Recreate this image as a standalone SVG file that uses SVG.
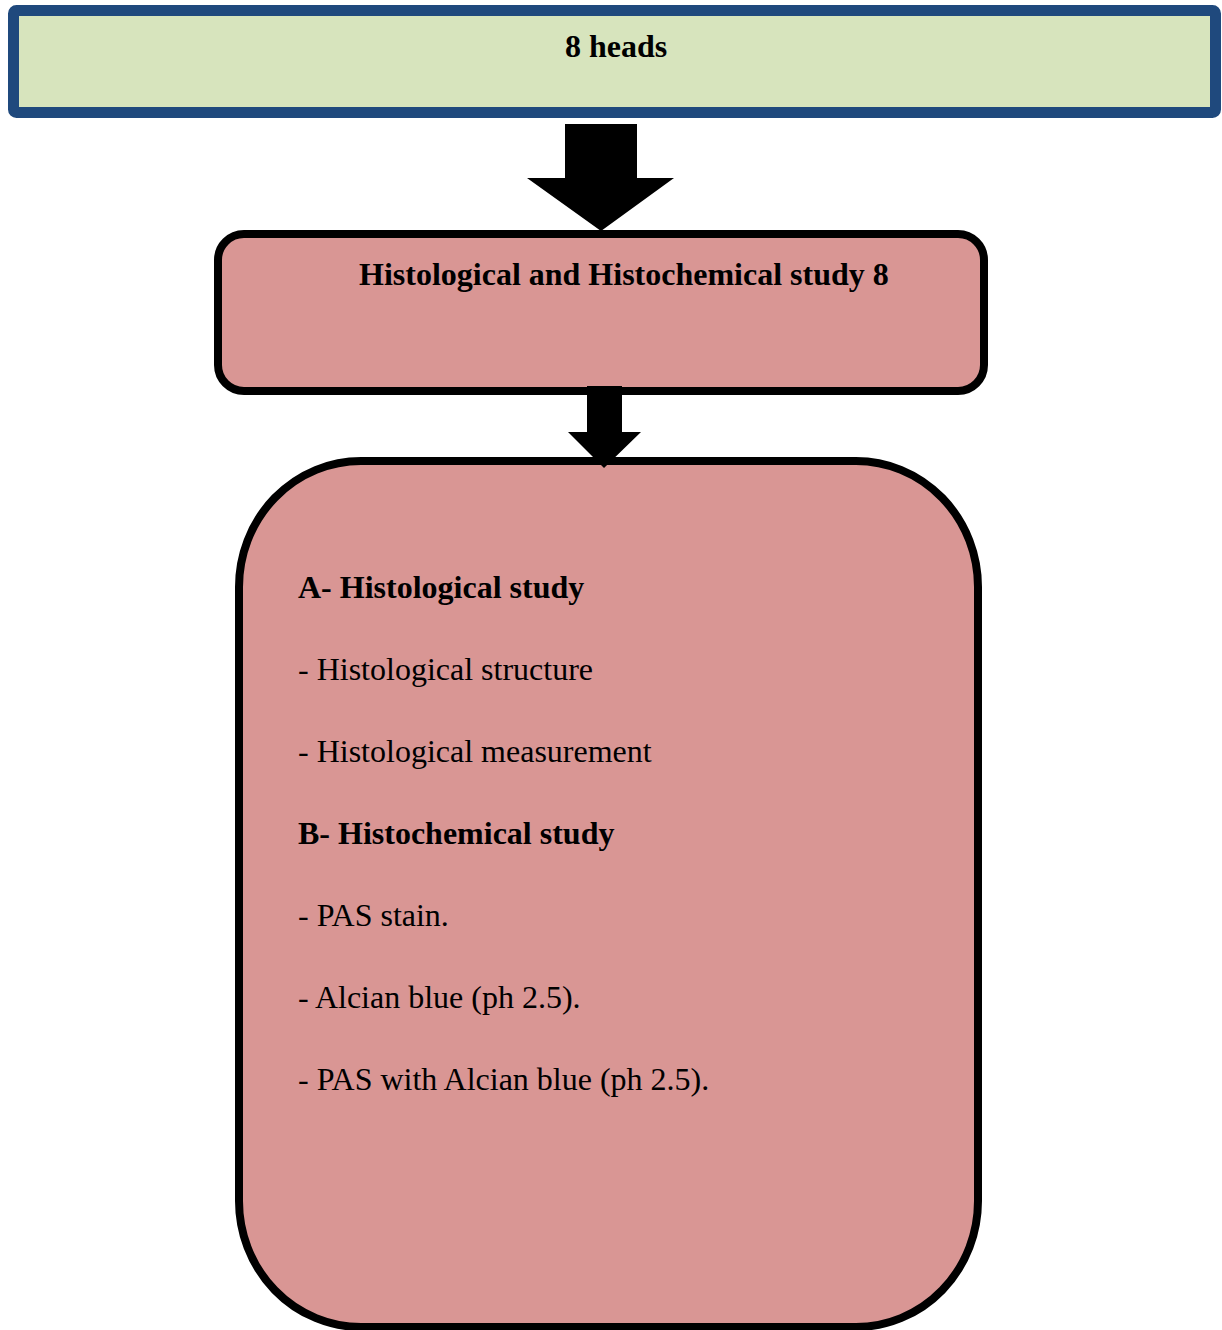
<svg xmlns="http://www.w3.org/2000/svg" width="1222" height="1330" viewBox="0 0 1222 1330">
<style>
.t{font-family:"Liberation Serif","Times New Roman",serif;font-size:32px;fill:#000}
.b{font-weight:bold}
.pink{fill:#D99694;stroke:#000;stroke-width:8}
</style>
<rect width="1222" height="1330" fill="#fff"/>
<g id="node-heads">
<rect x="13.5" y="10.5" width="1202" height="102" rx="3" fill="#D7E4BD" stroke="#1F497D" stroke-width="11"/>
<text class="t b" x="616" y="57" text-anchor="middle">8 heads</text>
</g>
<g id="node-study">
<rect class="pink" x="218" y="234" width="766" height="157" rx="26"/>
<text class="t b" x="359" y="285">Histological and Histochemical study 8</text>
</g>
<g id="node-details">
<rect class="pink" x="239" y="461" width="739" height="866" rx="122" ry="126"/>
<text class="t b" x="298" y="598">A- Histological study</text>
<text class="t" x="298" y="680">- Histological structure</text>
<text class="t" x="298" y="762">- Histological measurement</text>
<text class="t b" x="298" y="844">B- Histochemical study</text>
<text class="t" x="298" y="926">- PAS stain.</text>
<text class="t" x="298" y="1008">- Alcian blue (ph 2.5).</text>
<text class="t" x="298" y="1090">- PAS with Alcian blue (ph 2.5).</text>
</g>
<g id="connectors" fill="#000">
<polygon points="565,124 637,124 637,178 674,178 601,231 527,178 565,178"/>
<polygon points="587,386 622,386 622,432 641,432 604,468 568,432 587,432"/>
</g>
</svg>
